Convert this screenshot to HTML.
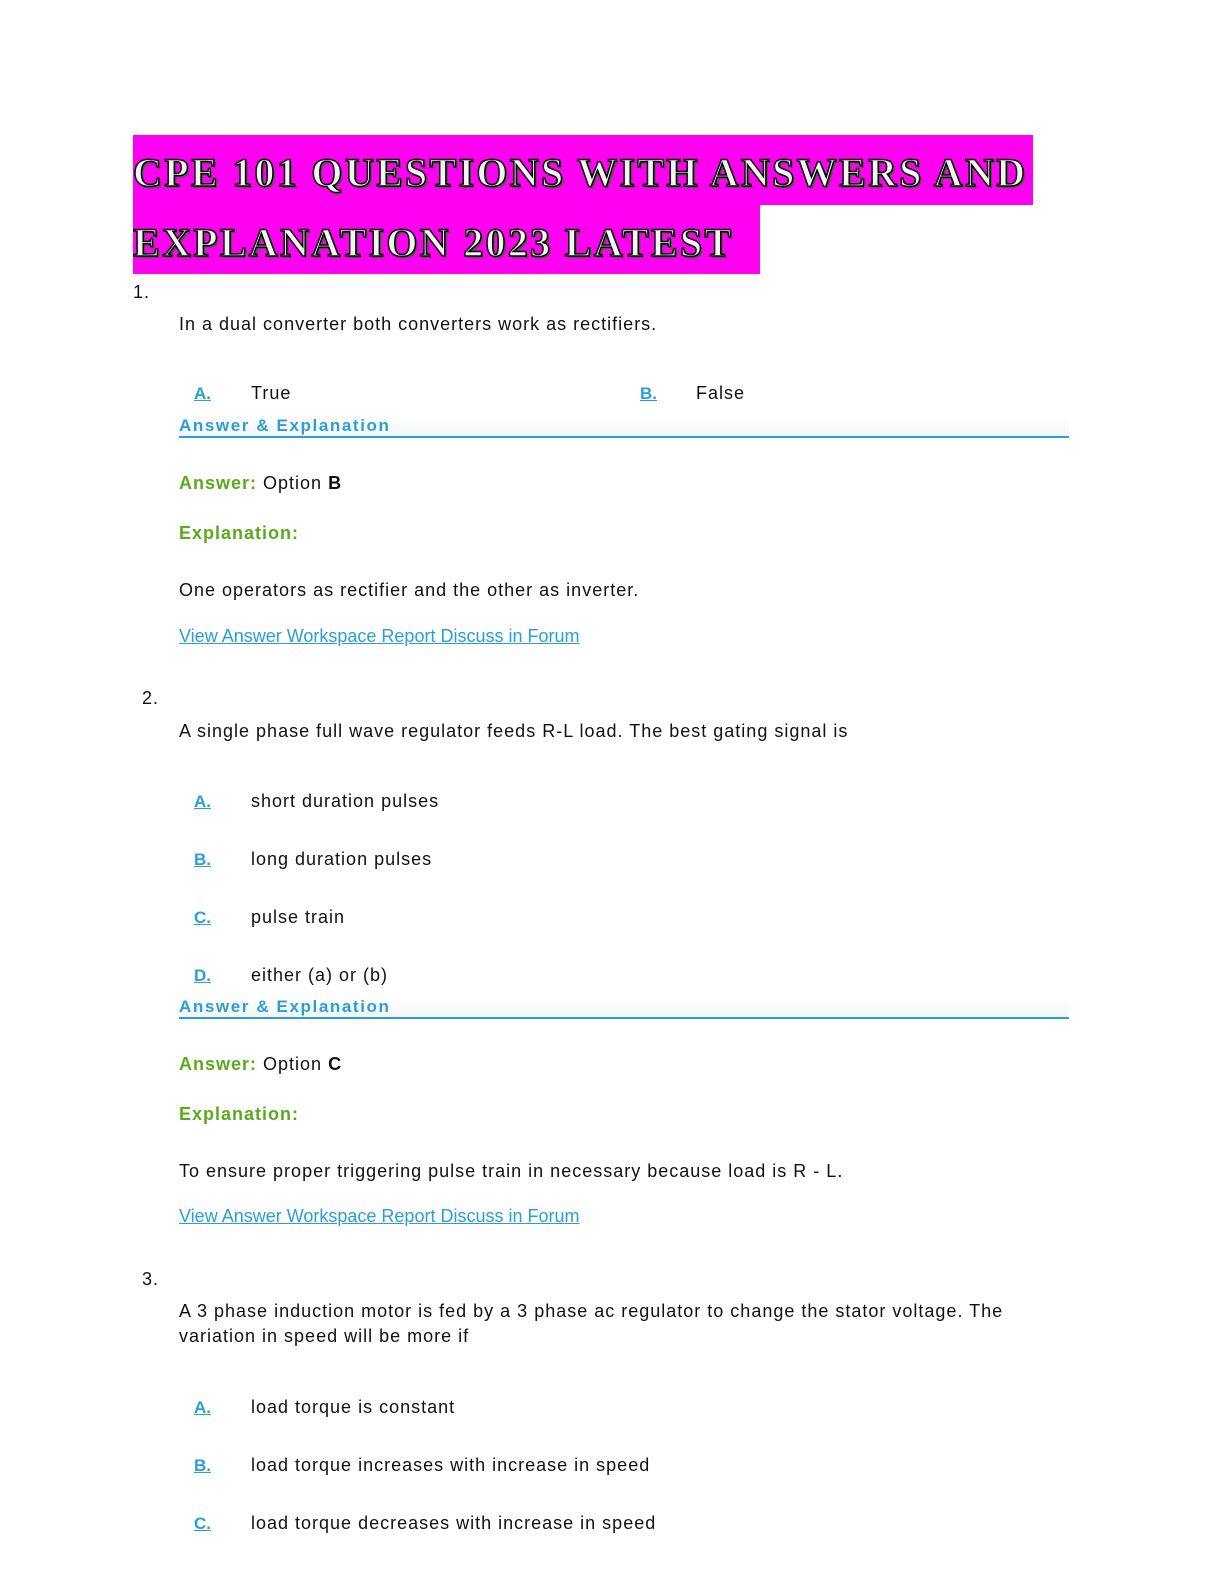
<!DOCTYPE html>
<html><head><meta charset="utf-8"><style>
body{margin:0;width:1224px;height:1584px;background:#fff;position:relative;font-family:"Liberation Sans","DejaVu Sans",sans-serif;color:#111;}
.a{position:absolute;white-space:nowrap;font-size:18px;line-height:22px;letter-spacing:1px;}
.t{position:absolute;font-family:"Liberation Serif",serif;font-weight:bold;font-size:40px;line-height:70px;color:#f4f4f4;-webkit-text-stroke:1.5px #000;text-shadow:2px 2px 0 #555;white-space:nowrap;letter-spacing:2.3px;}
.l{color:#2a9fd6;text-decoration:underline;font-weight:bold;font-size:17px;letter-spacing:0;}
.ae{position:absolute;left:179px;width:890px;height:18px;border-bottom:2px solid #2a9fd6;background:linear-gradient(#fff,#f3f5f7);}
.ae span{position:absolute;left:0;top:-2px;color:#2a9fd6;font-weight:bold;font-size:17px;letter-spacing:1.6px;white-space:nowrap;}
.g{color:#5aaa1e;font-weight:bold;}
.v{color:#2a9fd6;text-decoration:underline;font-size:18px;letter-spacing:0;}
</style></head><body>
<div style="position:absolute;left:133px;top:135px;width:900px;height:70px;background:#ff00f0"></div>
<div style="position:absolute;left:133px;top:205px;width:627px;height:69px;background:#ff00f0"></div>
<div class="t" style="left:133px;top:138px;">CPE 101 QUESTIONS WITH ANSWERS AND</div>
<div class="t" style="left:133px;top:208px;">EXPLANATION 2023 LATEST</div>

<div class="a" style="left:133px;top:281px;">1.</div>
<div class="a" style="left:179px;top:313px;">In a dual converter both converters work as rectifiers.</div>
<div class="a l" style="left:194px;top:383px;">A.</div><div class="a" style="left:251px;top:382px;">True</div>
<div class="a l" style="left:640px;top:383px;">B.</div><div class="a" style="left:696px;top:382px;">False</div>
<div class="ae" style="top:418px;"><span>Answer &amp; Explanation</span></div>
<div class="a" style="left:179px;top:472px;"><span class="g">Answer:</span> Option <b>B</b></div>
<div class="a g" style="left:179px;top:522px;">Explanation:</div>
<div class="a" style="left:179px;top:579px;">One operators as rectifier and the other as inverter.</div>
<div class="a v" style="left:179px;top:625px;">View Answer Workspace Report Discuss in Forum</div>

<div class="a" style="left:142px;top:687px;">2.</div>
<div class="a" style="left:179px;top:720px;">A single phase full wave regulator feeds R-L load. The best gating signal is</div>
<div class="a l" style="left:194px;top:791px;">A.</div><div class="a" style="left:251px;top:790px;">short duration pulses</div>
<div class="a l" style="left:194px;top:849px;">B.</div><div class="a" style="left:251px;top:848px;">long duration pulses</div>
<div class="a l" style="left:194px;top:907px;">C.</div><div class="a" style="left:251px;top:906px;">pulse train</div>
<div class="a l" style="left:194px;top:965px;">D.</div><div class="a" style="left:251px;top:964px;">either (a) or (b)</div>
<div class="ae" style="top:999px;"><span>Answer &amp; Explanation</span></div>
<div class="a" style="left:179px;top:1053px;"><span class="g">Answer:</span> Option <b>C</b></div>
<div class="a g" style="left:179px;top:1103px;">Explanation:</div>
<div class="a" style="left:179px;top:1160px;">To ensure proper triggering pulse train in necessary because load is R - L.</div>
<div class="a v" style="left:179px;top:1205px;">View Answer Workspace Report Discuss in Forum</div>

<div class="a" style="left:142px;top:1268px;">3.</div>
<div class="a" style="left:179px;top:1300px;">A 3 phase induction motor is fed by a 3 phase ac regulator to change the stator voltage. The</div>
<div class="a" style="left:179px;top:1325px;">variation in speed will be more if</div>
<div class="a l" style="left:194px;top:1397px;">A.</div><div class="a" style="left:251px;top:1396px;">load torque is constant</div>
<div class="a l" style="left:194px;top:1455px;">B.</div><div class="a" style="left:251px;top:1454px;">load torque increases with increase in speed</div>
<div class="a l" style="left:194px;top:1513px;">C.</div><div class="a" style="left:251px;top:1512px;">load torque decreases with increase in speed</div>
</body></html>
